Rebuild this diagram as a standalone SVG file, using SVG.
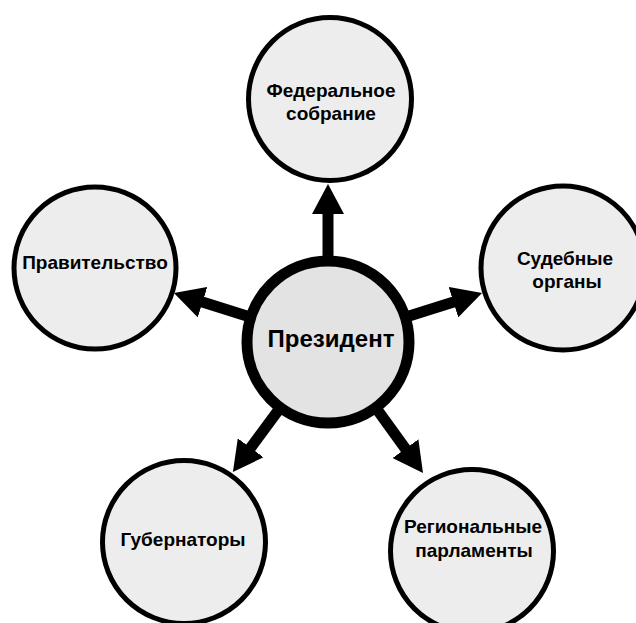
<svg xmlns="http://www.w3.org/2000/svg" width="636" height="623" viewBox="0 0 636 623">
  <style>
    .node { fill: #ededed; stroke: #000; stroke-width: 5; }
    .center { fill: #e3e3e3; stroke: #000; stroke-width: 11; }
    .lbl { font-family: "Liberation Sans", Arial, sans-serif; font-weight: bold; font-size: 19px; fill: #000; text-anchor: middle; }
    .big { font-size: 24px; }
    .conn { stroke: #000; stroke-width: 11; fill: none; marker-end: url(#head); }
  </style>
  <defs>
    <marker id="head" viewBox="0 0 30 32" refX="1" refY="16" markerWidth="30" markerHeight="32" markerUnits="userSpaceOnUse" orient="auto">
      <path d="M0,0 L30,16 L0,32 Z" fill="#000"/>
    </marker>
  </defs>
  <rect width="636" height="623" fill="#fff"/>

  <g id="node-federal">
    <circle class="node" cx="330" cy="99" r="81.5"/>
    <text class="lbl" x="331" y="97">Федеральное</text>
    <text class="lbl" x="331" y="120">собрание</text>
  </g>
  <g id="node-government">
    <circle class="node" cx="95" cy="268" r="81"/>
    <text class="lbl" x="95" y="269">Правительство</text>
  </g>
  <g id="node-courts">
    <circle class="node" cx="563" cy="268" r="82"/>
    <text class="lbl" x="565" y="265">Судебные</text>
    <text class="lbl" x="567" y="288">органы</text>
  </g>
  <g id="node-governors">
    <circle class="node" cx="184" cy="542" r="81.5"/>
    <text class="lbl" x="183" y="546">Губернаторы</text>
  </g>
  <g id="node-parliaments">
    <circle class="node" cx="472" cy="551" r="81.5"/>
    <text class="lbl" x="473" y="533">Региональные</text>
    <text class="lbl" x="474" y="557">парламенты</text>
  </g>
  <g id="node-president">
    <circle class="center" cx="328" cy="342" r="81"/>
    <text class="lbl big" x="331" y="347">Президент</text>
  </g>

  <g id="connectors">
    <line class="conn" x1="328" y1="258" x2="328" y2="213"/>
    <line class="conn" x1="406" y1="317" x2="454.4" y2="301.8"/>
    <line class="conn" x1="250" y1="317" x2="201.6" y2="301.8"/>
    <line class="conn" x1="280" y1="408" x2="250.1" y2="448.6"/>
    <line class="conn" x1="376" y1="408" x2="406" y2="449.5"/>
  </g>
</svg>
